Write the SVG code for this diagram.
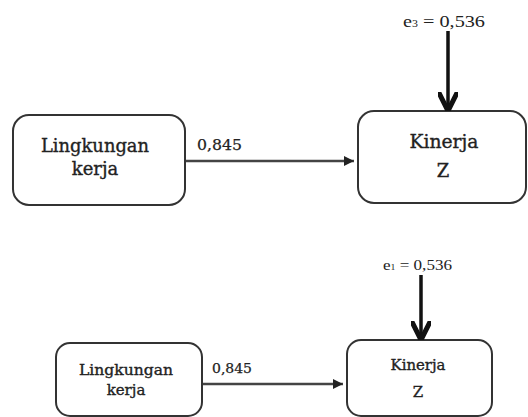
<svg xmlns="http://www.w3.org/2000/svg" width="528" height="417" viewBox="0 0 528 417">
<defs>
<style>
.box{fill:#fff;stroke:#333;stroke-width:2}
.t{font-family:"DejaVu Serif","Liberation Serif",serif;fill:#222;stroke:#222;stroke-width:0.35;text-anchor:middle}
.lbl{font-family:"DejaVu Serif","Liberation Serif",serif;fill:#222;stroke:#222;stroke-width:0.25}
.e{font-family:"Liberation Serif","DejaVu Serif",serif;fill:#222}
.ln{stroke:#444;stroke-width:2.5;fill:none}
.vl{stroke:#111;stroke-width:3.5;fill:none}
</style>
<marker id="ah" viewBox="0 0 10 10" refX="10" refY="5" markerWidth="4" markerHeight="4" markerUnits="strokeWidth" orient="auto">
<path d="M0,0 L10,5 L0,10 z" fill="#222"/>
</marker>
<marker id="vh" viewBox="0 0 10 10" refX="9" refY="5" markerWidth="5.5" markerHeight="5.5" markerUnits="strokeWidth" orient="auto">
<path d="M0,0 L10,5 L0,10" fill="none" stroke="#111" stroke-width="2.6"/>
</marker>
</defs>
<g id="top-lingkungan">
<rect class="box" x="13" y="115" width="172" height="90" rx="16"/>
<text class="t" x="95" y="152" font-size="18" textLength="108" lengthAdjust="spacingAndGlyphs">Lingkungan</text>
<text class="t" x="95" y="175" font-size="18">kerja</text>
</g>
<g id="top-kinerja">
<rect class="box" x="358" y="111" width="168" height="92" rx="16"/>
<text class="t" x="444" y="148" font-size="18" textLength="69" lengthAdjust="spacingAndGlyphs">Kinerja</text>
<text class="t" x="443" y="177" font-size="18">Z</text>
</g>
<g id="bottom-lingkungan">
<rect class="box" x="56" y="343" width="146" height="73" rx="14"/>
<text class="t" x="126" y="375" font-size="15" textLength="94" lengthAdjust="spacingAndGlyphs">Lingkungan</text>
<text class="t" x="126" y="395" font-size="15">kerja</text>
</g>
<g id="bottom-kinerja">
<rect class="box" x="347" y="340" width="145" height="76" rx="14"/>
<text class="t" x="418" y="370" font-size="15" textLength="55" lengthAdjust="spacingAndGlyphs">Kinerja</text>
<text class="t" x="418" y="397" font-size="15">Z</text>
</g>
<g id="connectors">
<line class="ln" x1="186" y1="161" x2="354" y2="161" marker-end="url(#ah)"/>
<line class="vl" x1="448" y1="31" x2="448" y2="109" marker-end="url(#vh)"/>
<line class="ln" x1="203" y1="384" x2="343" y2="384" marker-end="url(#ah)"/>
<line class="vl" x1="421" y1="275" x2="421" y2="338" marker-end="url(#vh)"/>
</g>
<g id="labels">
<text class="lbl" x="197" y="150" font-size="15" textLength="45" lengthAdjust="spacingAndGlyphs">0,845</text>
<text class="lbl" x="212" y="373" font-size="13" textLength="40" lengthAdjust="spacingAndGlyphs">0,845</text>
<text class="e" x="403" y="27" font-size="17" textLength="82" lengthAdjust="spacingAndGlyphs">e<tspan font-size="10">3</tspan> = 0,536</text>
<text class="e" x="383" y="270" font-size="14" textLength="69" lengthAdjust="spacingAndGlyphs">e<tspan font-size="8">1</tspan> = 0,536</text>
</g>
</svg>
